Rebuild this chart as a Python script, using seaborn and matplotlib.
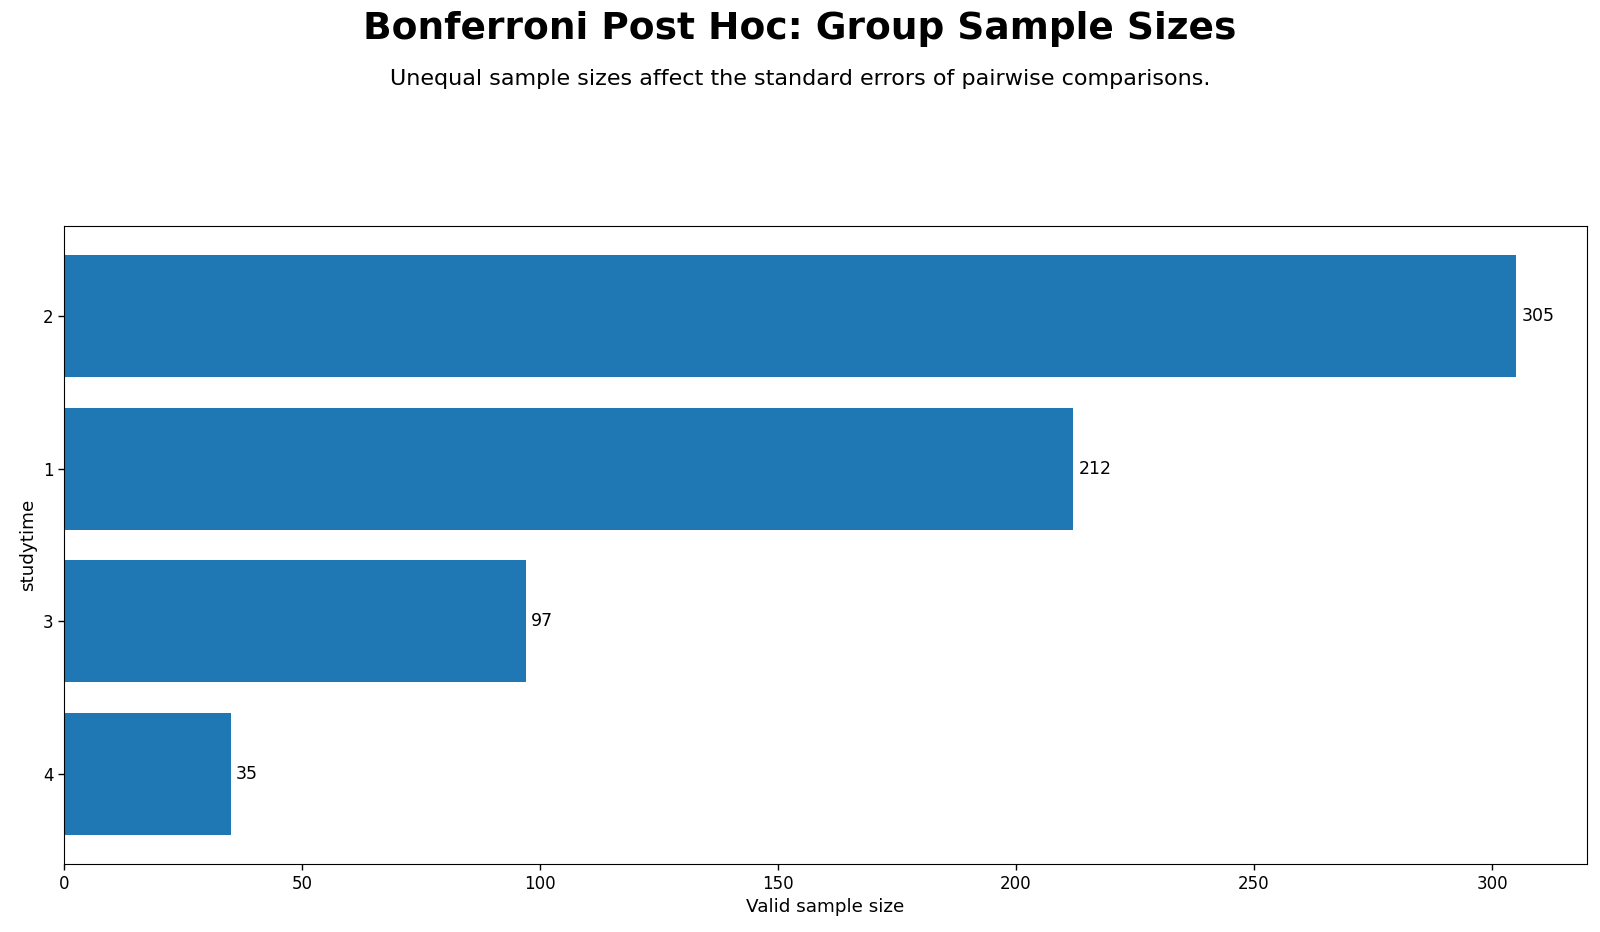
import seaborn as sns
from matplotlib import pyplot as plt
import pandas as pd

groups = ["2", "1", "3", "4"]
sizes = [305, 212, 97, 35]

df = pd.DataFrame({"studytime": groups, "n": sizes})

fig = plt.figure(figsize=(16, 9.32), dpi=100)
ax = fig.add_axes([0.04, 0.073, 0.952, 0.684])

sns.barplot(data=df, x="n", y="studytime", order=groups, orient="h",
            color="#1f77b4", saturation=1, width=0.8, ax=ax)

for c in ax.containers:
    ax.bar_label(c, labels=[str(v) for v in sizes], padding=4, fontsize=12.5)

ax.set_xlim(0, 320)
ax.set_ylim(3.59, -0.59)
ax.set_xlabel("Valid sample size", fontsize=13.2)
ax.set_ylabel("studytime", fontsize=13.2)
ax.tick_params(labelsize=12, length=4.2, width=1)

fig.text(0.5, 0.969, "Bonferroni Post Hoc: Group Sample Sizes",
         ha="center", va="center", fontsize=27, fontweight="bold")
fig.text(0.5, 0.915, "Unequal sample sizes affect the standard errors of pairwise comparisons.",
         ha="center", va="center", fontsize=16)

fig.savefig("out.png", dpi=100)
